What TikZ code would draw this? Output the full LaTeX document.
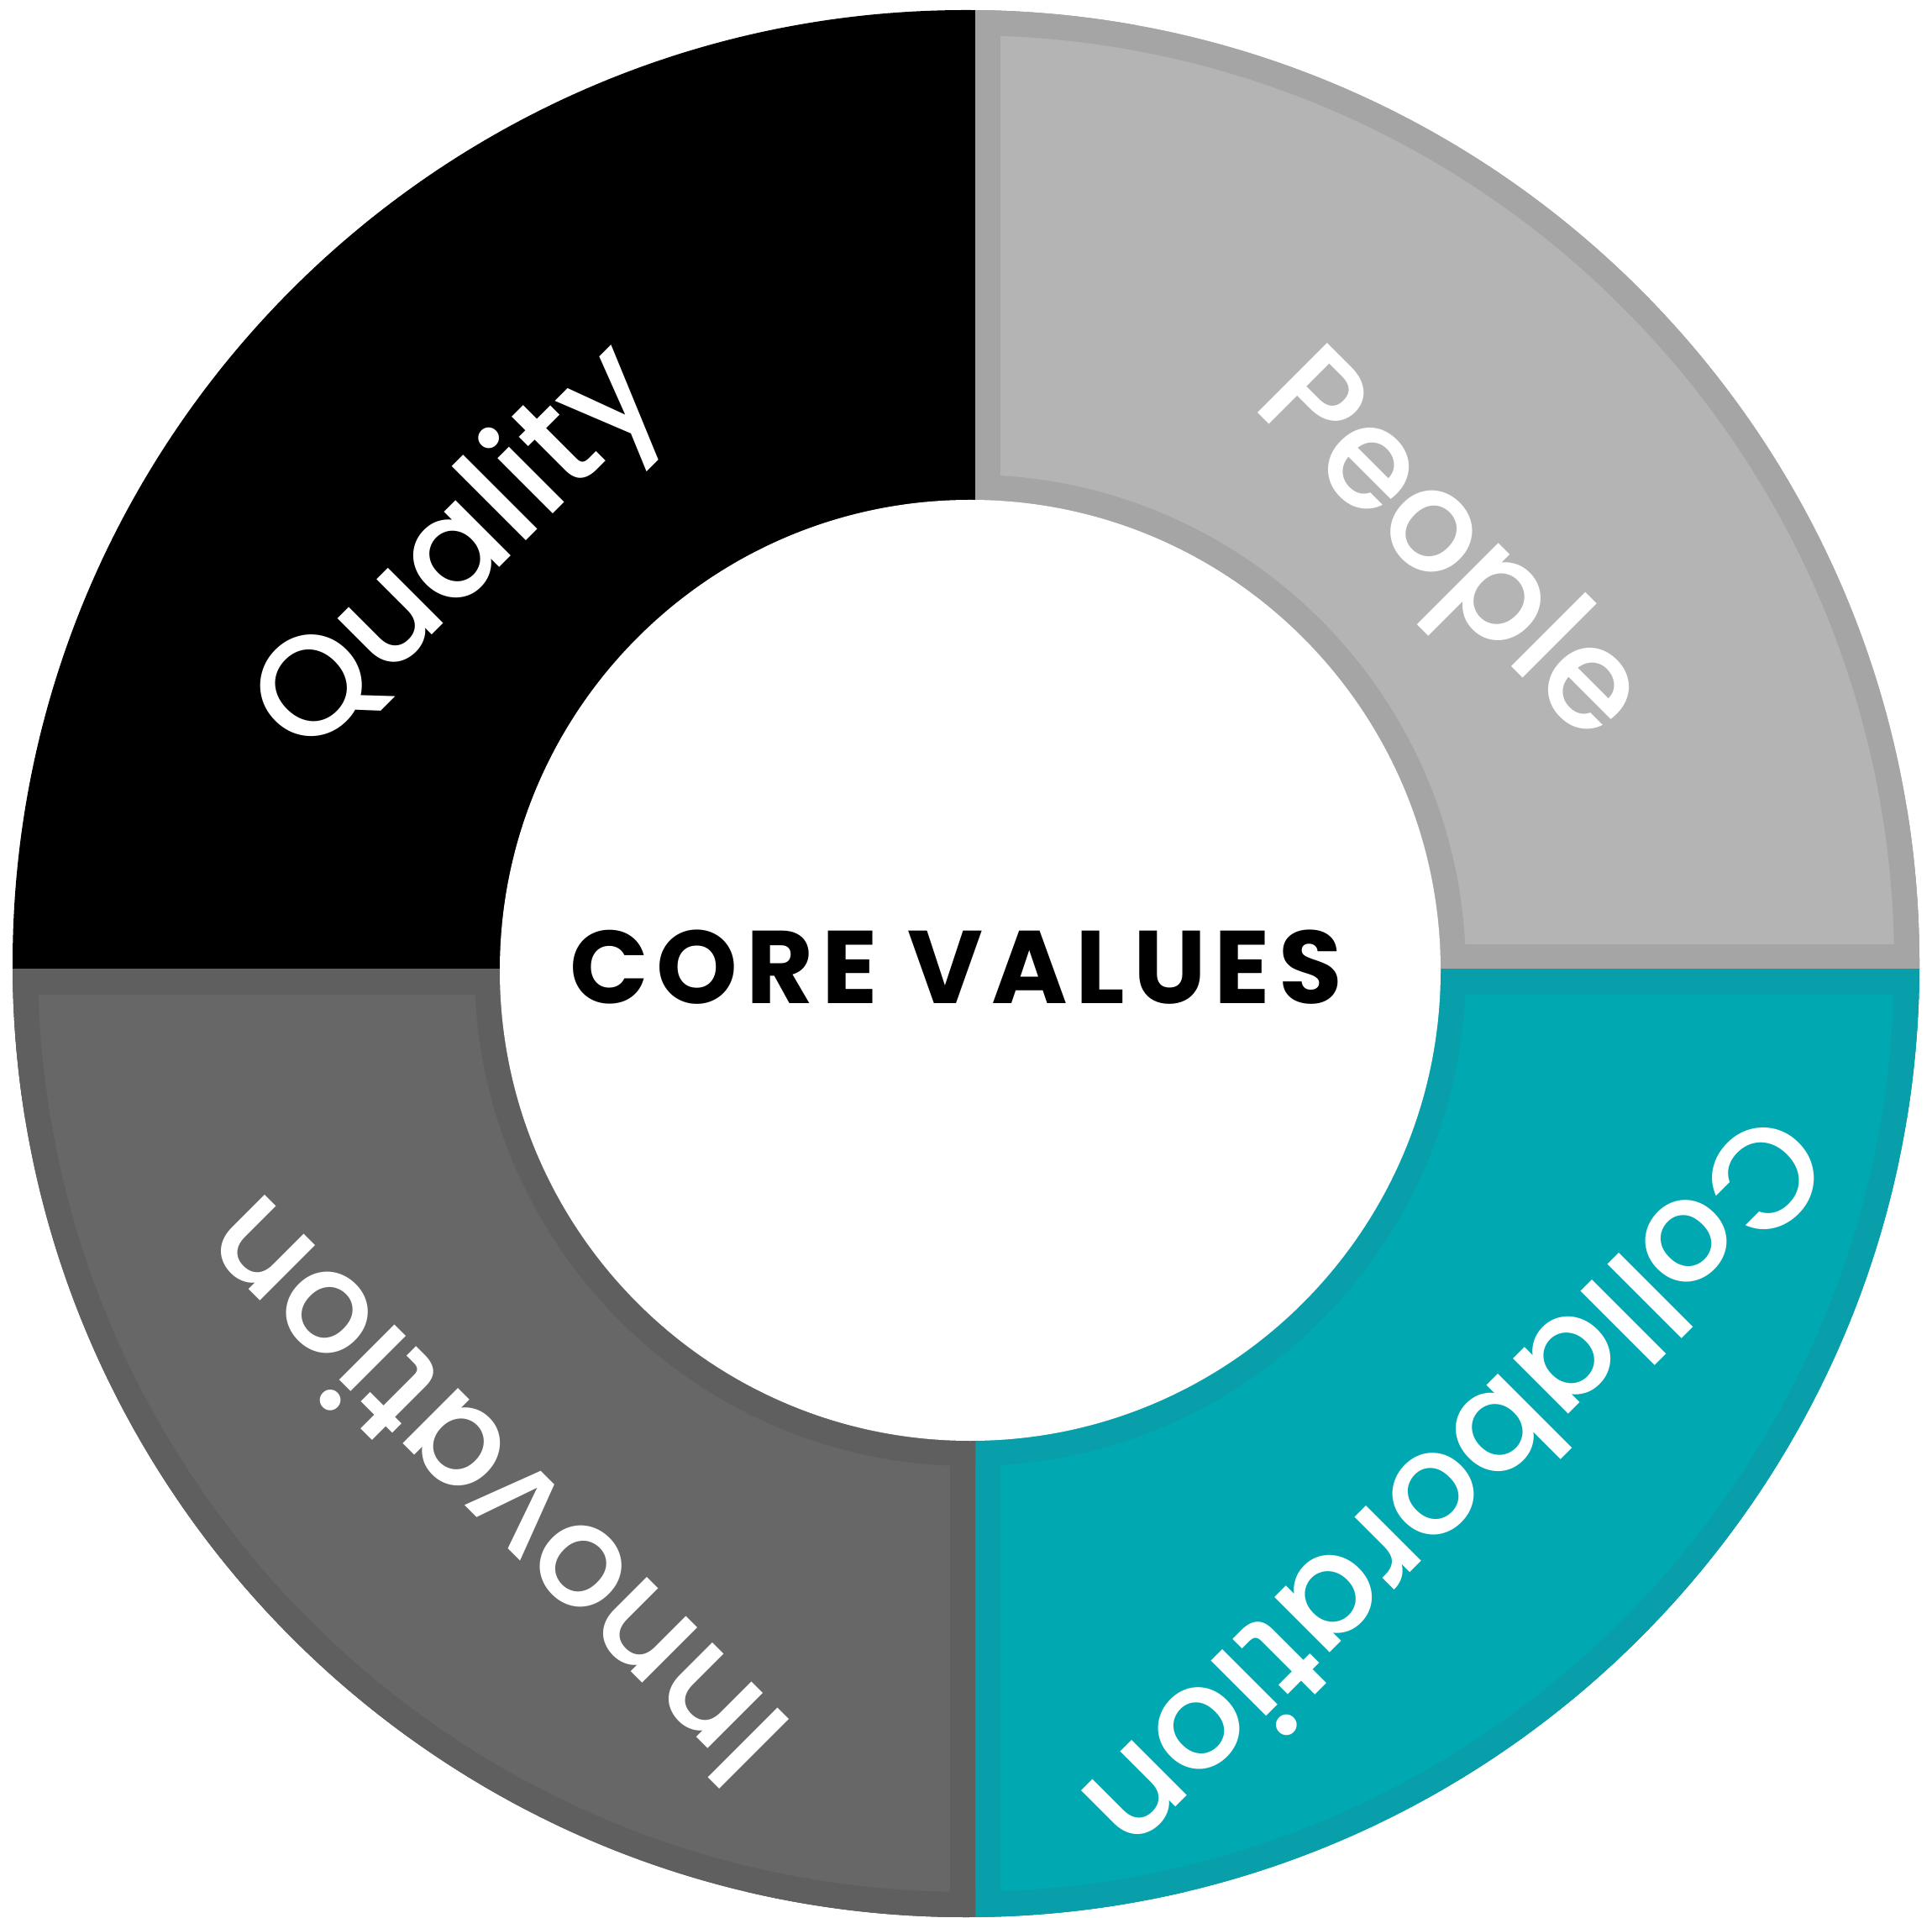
\documentclass[tikz,border=0pt]{standalone}
\usepackage{fontspec}
\setmainfont{Poppins}
\newfontfamily\labelfont{Poppins Medium}
\newfontfamily\corefont{Poppins}[LetterSpace=8]
\definecolor{cvblack}{RGB}{0,0,0}
\definecolor{cvlight}{RGB}{180,180,180}
\definecolor{cvlightedge}{RGB}{165,165,165}
\definecolor{cvdark}{RGB}{103,103,103}
\definecolor{cvdarkedge}{RGB}{95,95,95}
\definecolor{cvteal}{RGB}{0,169,177}
\definecolor{cvtealedge}{RGB}{8,159,171}

\begin{document}
\begin{tikzpicture}[
  ringlabel/.style={text=white, inner sep=0pt, anchor=base, font=\labelfont\fontsize{48}{58}\selectfont},
  edgeband/.style={line width=6mm}
]
\useasboundingbox (0,0) rectangle (23,22.82);

% Quality quadrant
\begin{scope}
\clip (11.50,11.35) circle (11.35);
\fill[cvblack] (0,11.28) rectangle (11.61,22.82);
\end{scope}

% People quadrant
\begin{scope}
\clip (11.50,11.35) circle (11.35);
\clip (11.61,11.28) rectangle (23,22.82);
\fill[cvlight] (11.61,11.28) rectangle (23,22.82);
\draw[cvlightedge, edgeband] (11.50,11.35) circle (11.35);
\draw[cvlightedge, edgeband] (11.61,11.28) rectangle (23,22.82);
\draw[cvlightedge, edgeband] (11.55,11.27) circle (5.60);
\end{scope}

% Collaboration quadrant
\begin{scope}
\clip (11.50,11.35) circle (11.35);
\clip (11.61,0) rectangle (23,11.28);
\fill[cvteal] (11.61,0) rectangle (23,11.28);
\draw[cvtealedge, edgeband] (11.50,11.35) circle (11.35);
\draw[cvtealedge, edgeband] (11.61,0) rectangle (23,11.28);
\draw[cvtealedge, edgeband] (11.55,11.27) circle (5.60);
\end{scope}

% Innovation quadrant
\begin{scope}
\clip (11.50,11.35) circle (11.35);
\clip (0,0) rectangle (11.61,11.28);
\fill[cvdark] (0,0) rectangle (11.61,11.28);
\draw[cvdarkedge, edgeband] (11.50,11.35) circle (11.35);
\draw[cvdarkedge, edgeband] (0,0) rectangle (11.61,11.28);
\draw[cvdarkedge, edgeband] (11.55,11.27) circle (5.60);
\end{scope}

% Centre hole
\fill[white] (11.55,11.27) circle (5.60);

% Labels
\node[ringlabel, rotate=45] (quality) at (5.80,15.92) {Quality};
\node[ringlabel, rotate=-45] (people) at (16.92,15.96) {People};
\node[ringlabel, rotate=-135] (collab) at (16.92,5.55) {Collaboration};
\node[ringlabel, rotate=135] (innov) at (6.28,5.47) {Innovation};
\node[inner sep=0pt, anchor=base, font=\corefont\fontsize{35}{42}\selectfont\bfseries] (core) at (11.38,10.87) {CORE VALUES};
\end{tikzpicture}
\end{document}
